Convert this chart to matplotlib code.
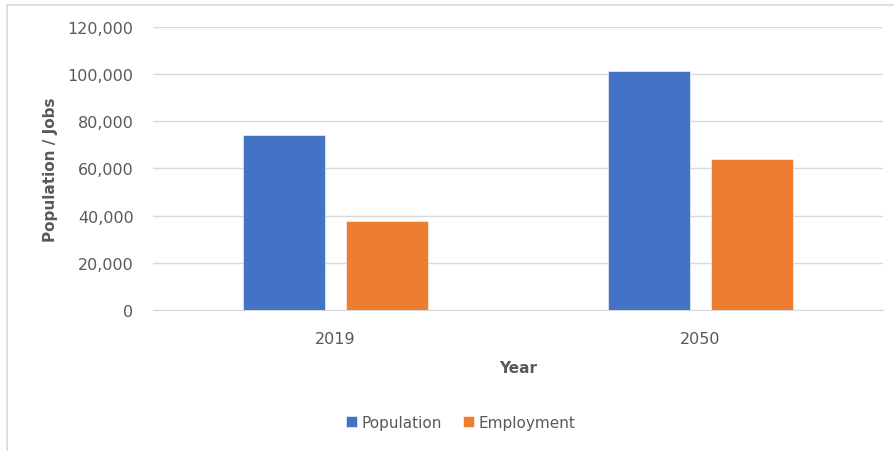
import numpy as np
import matplotlib.pyplot as plt
from matplotlib.patches import Rectangle
from matplotlib.ticker import FuncFormatter

years = ["2019", "2050"]
population = [74200, 101400]
employment = [37900, 64200]
series_names = ["Population", "Employment"]
colors = ["#4472C4", "#ED7D31"]

fig = plt.figure(figsize=(8.95, 4.52), dpi=100)
ax = fig.add_axes([0.171, 0.312, 0.8156, 0.626])

x = np.arange(len(years))
w = 0.225
off = (w + 0.058) / 2
ax.bar(x - off, population, w, color=colors[0], label=series_names[0],
       edgecolor="white", linewidth=0.4, zorder=3)
ax.bar(x + off, employment, w, color=colors[1], label=series_names[1],
       edgecolor="white", linewidth=0.4, zorder=3)

ax.set_xlim(-0.5, 1.5)
ax.set_ylim(0, 120000)
ax.set_yticks(np.arange(0, 120001, 20000))
ax.yaxis.set_major_formatter(FuncFormatter(lambda v, p: f"{int(v):,}"))
ax.set_xticks(x)
ax.set_xticklabels(years)
ax.grid(axis="y", color="#d9d9d9", linewidth=1, zorder=0)
for s in ["top", "right", "left"]:
    ax.spines[s].set_visible(False)
ax.spines["bottom"].set_color("#d9d9d9")
ax.tick_params(length=0, labelsize=11.5, labelcolor="#595959")
ax.tick_params(axis="x", pad=15)
ax.tick_params(axis="y", pad=14)

ax.set_ylabel("Population / Jobs", fontsize=11, fontweight="bold",
              color="#595959", labelpad=7)
ax.set_xlabel("Year", fontsize=11, fontweight="bold", color="#595959", labelpad=10)

leg = fig.legend(loc="center", bbox_to_anchor=(0.515, 0.064), ncol=2, frameon=False,
                 fontsize=11, handlelength=0.7, handleheight=0.7,
                 handletextpad=0.3, columnspacing=1.4)
for t in leg.get_texts():
    t.set_color("#595959")

# outer chart border
fig.patches.append(Rectangle((7 / 895, -0.05), 1.0, 1 - 6 / 452 + 0.05,
                             transform=fig.transFigure, fill=False,
                             edgecolor="#d9d9d9", linewidth=1.2))

fig.savefig("out.png", dpi=100)
